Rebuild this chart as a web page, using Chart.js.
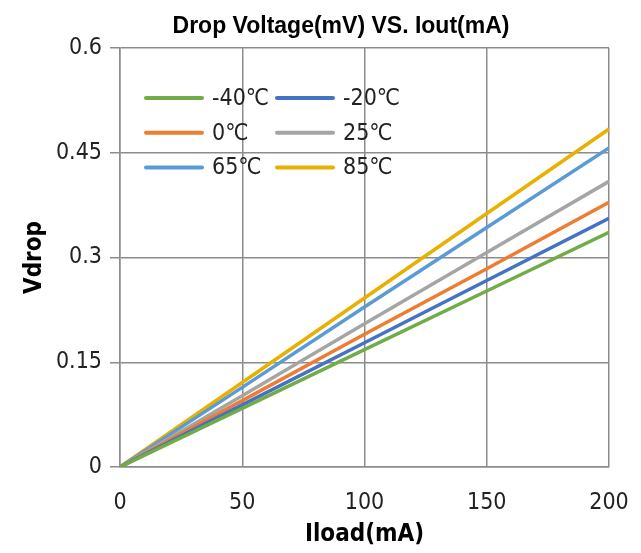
<!DOCTYPE html>
<html>
<head>
<meta charset="utf-8">
<script src="https://cdn.jsdelivr.net/npm/chart.js@4.4.1/dist/chart.umd.min.js"></script>
<style>
  html, body { margin: 0; padding: 0; background: #fff; }
  #wrap { width: 641px; height: 553px; }
</style>
</head>
<body>
<div id="wrap"><canvas id="chartVdrop" width="641" height="553"></canvas></div>
<script>
// Dados (Iload em mA, Vdrop em V)
const iload = [0, 50, 100, 150, 200];
const tempLabels = ['-40℃', '-20℃', '0℃', '25℃', '65℃', '85℃'];
const vM40 = [0, 0.084, 0.168, 0.252, 0.336];
const vM20 = [0, 0.089, 0.178, 0.267, 0.356];
const v0   = [0, 0.095, 0.190, 0.284, 0.379];
const v25  = [0, 0.102, 0.205, 0.307, 0.409];
const v65  = [0, 0.114, 0.229, 0.343, 0.457];
const v85  = [0, 0.121, 0.242, 0.363, 0.484];
const yTicks = [0, 0.15, 0.3, 0.45, 0.6];
const xTicks = [0, 50, 100, 150, 200];
const chartTitle = 'Drop Voltage(mV) VS. Iout(mA)';

const COLORS = ['#70AD47', '#4472C4', '#ED7D31', '#A5A5A5', '#5B9BD5', '#E8B000'];
const GRID = '#8c8c8c';
const FONT = '"DejaVu Sans Condensed", "DejaVu Sans", sans-serif';
const TITLE_FONT = '"Liberation Sans", Arial, sans-serif';

const series = [vM40, vM20, v0, v25, v65, v85];

function toPoints(vals) {
    return vals.map((v, i) => ({ x: iload[i], y: v }));
}

// titulo + legenda desenhados a mao (legenda dentro da area, 2 colunas)
const insideLegend = {
    id: 'insideLegend',
    afterDraw(chart) {
        const ctx = chart.ctx;
        const a = chart.chartArea;
        ctx.save();
        ctx.fillStyle = '#000';
        ctx.textAlign = 'center';
        ctx.textBaseline = 'middle';
        ctx.font = 'bold 23px ' + TITLE_FONT;
        ctx.fillText(chartTitle, 341, 27);

        ctx.textAlign = 'left';
        ctx.font = '23px ' + FONT;
        ctx.fillStyle = '#222';
        chart.data.datasets.forEach((ds, i) => {
            const col = i % 2, row = Math.floor(i / 2);
            const x0 = a.left + 26 + col * 131;
            const y0 = a.top + 50 + row * 34.7;
            ctx.strokeStyle = ds.borderColor;
            ctx.lineWidth = 4;
            ctx.lineCap = 'round';
            ctx.beginPath();
            ctx.moveTo(x0, y0);
            ctx.lineTo(x0 + 56, y0);
            ctx.stroke();
            ctx.fillText(ds.label, x0 + 66, y0 + 1);
        });
        ctx.restore();
    }
};

new Chart(document.getElementById('chartVdrop'), {
    type: 'line',
    data: {
        datasets: series.map((vals, i) => ({
            label: tempLabels[i],
            data: toPoints(vals),
            borderColor: COLORS[i],
            backgroundColor: COLORS[i],
            borderWidth: 3.5,
            pointRadius: 0,
            tension: 0,
            fill: false
        }))
    },
    options: {
        responsive: false,
        animation: false,
        layout: { padding: { top: 48, right: 32, bottom: 0, left: 0 } },
        plugins: {
            legend: { display: false },
            tooltip: { enabled: false },
            title: { display: false }
        },
        scales: {
            x: {
                type: 'linear',
                min: xTicks[0], max: xTicks[xTicks.length - 1],
                ticks: { stepSize: xTicks[1] - xTicks[0], color: '#222', padding: 22, font: { family: FONT, size: 23 } },
                afterFit: s => { s.height = 86; s.paddingLeft = 0; s.paddingRight = 0; },
                grid: { color: GRID, lineWidth: 1.5, drawTicks: false },
                border: { color: GRID, width: 1.5 },
                title: {
                    display: true, text: 'Iload(mA)', color: '#000',
                    font: { family: FONT, size: 24, weight: 'bold', lineHeight: 1.2 },
                    padding: { top: 0, bottom: 4 }
                }
            },
            y: {
                min: yTicks[0], max: yTicks[yTicks.length - 1],
                ticks: {
                    stepSize: yTicks[1] - yTicks[0], color: '#222', padding: 8,
                    font: { family: FONT, size: 23 },
                    callback: v => String(+v.toFixed(2))
                },
                afterFit: s => { s.width = 120; s.paddingTop = 0; s.paddingBottom = 0; },
                grid: { color: GRID, lineWidth: 1.5, tickLength: 10 },
                border: { color: GRID, width: 1.5 },
                title: {
                    display: true, text: 'Vdrop', color: '#000',
                    font: { family: FONT, size: 24, weight: 'bold', lineHeight: 1.2 },
                    padding: { top: 20, bottom: 0 }
                }
            }
        }
    },
    plugins: [insideLegend]
});
</script>
</body>
</html>
